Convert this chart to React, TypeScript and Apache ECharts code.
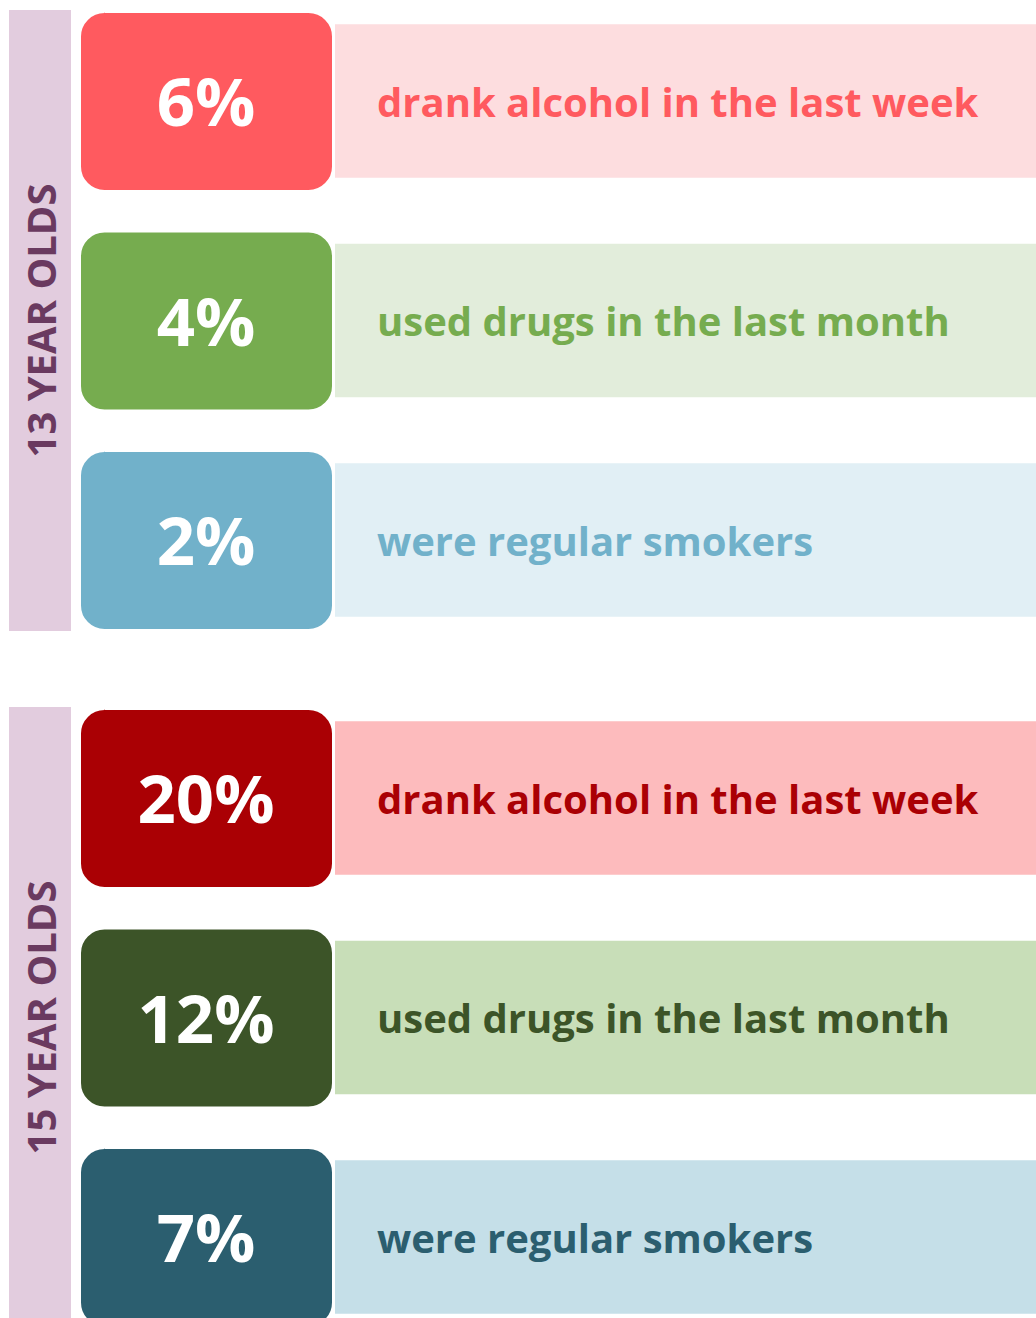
import React, { useEffect, useRef } from "react";
import * as echarts from "echarts";

const groupLabels = ["13 YEAR OLDS", "15 YEAR OLDS"];
const statements = [
  "drank alcohol in the last week",
  "used drugs in the last month",
  "were regular smokers",
];
const values13 = [6, 4, 2];
const values15 = [20, 12, 7];
const strongColors13 = ["#FF5A5F", "#76AC4F", "#71B1CA"];
const lightColors13 = ["#FDDDDF", "#E2EDDB", "#E1EFF5"];
const strongColors15 = ["#AA0004", "#3C5428", "#2B5E6F"];
const lightColors15 = ["#FDBBBD", "#C8DEB8", "#C5DFE8"];
const sideBarColor = "#E2CCDE";
const sideTextColor = "#6A3A60";

const FONT = "'Open Sans', 'Noto Sans', sans-serif";
const SHIFT = 40;

const makeRowRenderer = (strong: string[], light: string[]) => (params: any, api: any) => {
  const cs = params.coordSys;
  const i = api.value(1);
  const v = api.value(2);
  const cy = api.coord([0, i])[1];
  const band = api.size([0, 1])[1];
  const boxH = band * 0.806 + 3;
  const stripH = band * 0.70;
  const left = cs.x;
  const right = cs.x + cs.width;
  return {
    type: "group",
    children: [
      {
        type: "rect",
        shape: { x: left + 335, y: cy - stripH / 2, width: right - left - 335, height: stripH },
        style: { fill: light[i] },
      },
      {
        type: "rect",
        shape: { x: left + 79.5, y: cy - boxH / 2 + 0.5, width: 254, height: boxH, r: 25 },
        style: { fill: strong[i], stroke: "#ffffff", lineWidth: 3 },
      },
      {
        type: "text",
        x: left + 206,
        y: cy - 1,
        style: {
          text: v + "%",
          fill: "#ffffff",
          font: `bold 67px ${FONT}`,
          align: "center",
          verticalAlign: "middle",
        },
      },
      {
        type: "text",
        x: left + 377,
        y: cy,
        style: {
          text: statements[i],
          fill: strong[i],
          font: `bold 40px ${FONT}`,
          align: "left",
          verticalAlign: "middle",
        },
      },
    ],
  };
};

const makeGroupRenderer = (label: string) => (params: any, api: any) => {
  const cs = params.coordSys;
  const inset = cs.height * 0.0285;
  const top = cs.y + inset;
  const h = cs.height - 2 * inset;
  return {
    type: "group",
    children: [
      {
        type: "rect",
        shape: { x: cs.x + 9, y: top, width: 62, height: h },
        style: { fill: sideBarColor },
      },
      {
        type: "text",
        x: cs.x + 40,
        y: top + h / 2,
        rotation: Math.PI / 2,
        style: {
          text: label,
          fill: sideTextColor,
          font: `bold 40px ${FONT}`,
          align: "center",
          verticalAlign: "middle",
        },
      },
    ],
  };
};

export default function App() {
  const ref = useRef<HTMLDivElement>(null);
  useEffect(() => {
    document.body.style.margin = "0";
    document.body.style.overflow = "hidden";
    const chart = echarts.init(ref.current!, null, { renderer: "svg" });
    const grids = [
      { left: 0, width: 1036, top: -8.75 + SHIFT, height: 658.5 },
      { left: 0, width: 1036, top: 688.25 + SHIFT, height: 658.5 },
    ];
    const xAxes = grids.map((_, gi) => ({
      type: "value",
      gridIndex: gi,
      min: 0,
      max: 1,
      show: false,
    }));
    const yAxes = grids.map((_, gi) => ({
      type: "category",
      gridIndex: gi,
      data: statements,
      inverse: true,
      show: false,
    }));
    chart.setOption({
      animation: false,
      backgroundColor: "#ffffff",
      grid: grids,
      xAxis: xAxes,
      yAxis: yAxes,
      series: [
        {
          type: "custom",
          name: groupLabels[0],
          xAxisIndex: 0,
          yAxisIndex: 0,
          data: [[0, 1, 0]],
          renderItem: makeGroupRenderer(groupLabels[0]),
          silent: true,
          z: 1,
        },
        {
          type: "custom",
          name: groupLabels[1],
          xAxisIndex: 1,
          yAxisIndex: 1,
          data: [[0, 1, 0]],
          renderItem: makeGroupRenderer(groupLabels[1]),
          silent: true,
          z: 1,
        },
        {
          type: "custom",
          name: "13",
          xAxisIndex: 0,
          yAxisIndex: 0,
          data: values13.map((v, i) => [0, i, v]),
          renderItem: makeRowRenderer(strongColors13, lightColors13),
          silent: true,
          z: 2,
        },
        {
          type: "custom",
          name: "15",
          xAxisIndex: 1,
          yAxisIndex: 1,
          data: values15.map((v, i) => [0, i, v]),
          renderItem: makeRowRenderer(strongColors15, lightColors15),
          silent: true,
          z: 2,
        },
      ],
    });
    return () => chart.dispose();
  }, []);
  return (
    <div style={{ width: 1036, height: 1318, overflow: "hidden", position: "relative" }}>
      <div
        ref={ref}
        style={{ position: "absolute", left: 0, top: -SHIFT, width: 1036, height: 1318 + 2 * SHIFT }}
      />
    </div>
  );
}
